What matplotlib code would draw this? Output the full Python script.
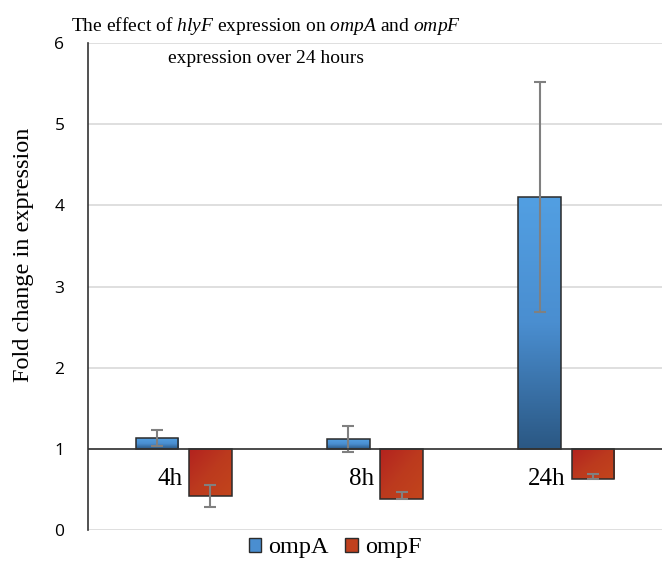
import numpy as np
import matplotlib.pyplot as plt
from matplotlib.patches import Patch
from matplotlib.colors import LinearSegmentedColormap

plt.rcParams['mathtext.fontset'] = 'custom'
plt.rcParams['mathtext.it'] = 'Liberation Serif:italic'
plt.rcParams['mathtext.rm'] = 'Liberation Serif'

""" Data read off the chart """
times = ['4h', '8h', '24h']
ompA = [1.13, 1.12, 4.10]
ompA_err = [0.10, 0.16, 1.42]
ompF = [0.42, 0.38, 0.63]
ompF_err_lo = [0.14, 0.0, 0.0]
ompF_err_hi = [0.14, 0.09, 0.06]

""" Figure setup """
fig = plt.figure(figsize=(6.62, 5.66), dpi=100)
ax = fig.add_axes([0.133, 0.0636, 0.867, 0.8604])

serif = 'Liberation Serif'
x = np.arange(len(times))
w = 0.223
off = 0.14

blue_cmap = LinearSegmentedColormap.from_list('b', ['#2B5884', '#4A8ED0', '#529FE2'])
red_cmap = LinearSegmentedColormap.from_list('r', ['#B3221F', '#BC3A1E', '#C2451C'])


def grad_bars(xs, vals, cmap, diag=False):
    """ Bars hanging from 1, filled with a gradient """
    bars = ax.bar(xs, np.array(vals) - 1, w, bottom=1, facecolor='none',
                  edgecolor='#2b2b2b', lw=1.1, zorder=3)
    for b in bars:
        x0, y0 = b.get_x(), b.get_y()
        x1, y1 = x0 + b.get_width(), y0 + b.get_height()
        if diag:
            gx, gy = np.meshgrid(np.linspace(0, 1, 50), np.linspace(0, 1, 50))
            g = (gx + gy) / 2
        else:
            g = np.linspace(0, 1, 100).reshape(-1, 1)
        im = ax.imshow(g, cmap=cmap, aspect='auto', origin='lower' if not diag else 'upper',
                       extent=[x0, x1, min(y0, y1), max(y0, y1)], zorder=2)
        im.set_clip_path(b)
    return bars


grad_bars(x - off, ompA, blue_cmap)
grad_bars(x + off, ompF, red_cmap, diag=True)

ax.errorbar(x - off, ompA, yerr=ompA_err, fmt='none', ecolor='#808080',
            elinewidth=1.5, capsize=4, capthick=1.5, zorder=4)
ax.errorbar(x + off, ompF, yerr=[ompF_err_lo, ompF_err_hi], fmt='none',
            ecolor='#808080', elinewidth=1.5, capsize=4, capthick=1.5, zorder=4)

""" Axes styling """
ax.set_xlim(-0.5, 2.5)
ax.set_ylim(0, 6)
ax.set_yticks(range(7))
ax.set_yticklabels([str(i) for i in range(7)], family='Open Sans', fontsize=12.5)
ax.tick_params(axis='y', length=0, pad=17)
ax.set_xticks([])
ax.grid(axis='y', color='#d9d9d9', lw=1.2, zorder=0)
ax.set_axisbelow(True)
for s in ['top', 'right', 'bottom']:
    ax.spines[s].set_visible(False)
ax.spines['left'].set_color('#333333')
ax.spines['left'].set_linewidth(1.2)
ax.axhline(1, color='#333333', lw=1.2, zorder=5)

for i, t in enumerate(times):
    ax.text(x[i] - 0.005, 0.63, t, ha='right', va='center', family=serif, fontsize=18)

ax.set_ylabel('Fold change in expression', family=serif, fontsize=17.5)
ax.yaxis.set_label_coords(-0.095, 0.565)

fig.text(0.402, 0.945, 'The effect of $\\it{hlyF}$ expression on $\\it{ompA}$ and $\\it{ompF}$',
         ha='center', va='baseline', family=serif, fontsize=14)
fig.text(0.402, 0.889, 'expression over 24 hours', ha='center', va='baseline',
         family=serif, fontsize=14)

handles = [Patch(facecolor='#4A8ED0', edgecolor='#2b2b2b'),
           Patch(facecolor='#C0401E', edgecolor='#2b2b2b')]
fig.legend(handles, ['ompA', 'ompF'], loc='center', bbox_to_anchor=(0.506, 0.032),
           ncol=2, frameon=False, prop={'family': serif, 'size': 17.5},
           handlelength=0.5, handleheight=0.5, handletextpad=0.3, columnspacing=0.7)

plt.savefig('out.png', dpi=100)
